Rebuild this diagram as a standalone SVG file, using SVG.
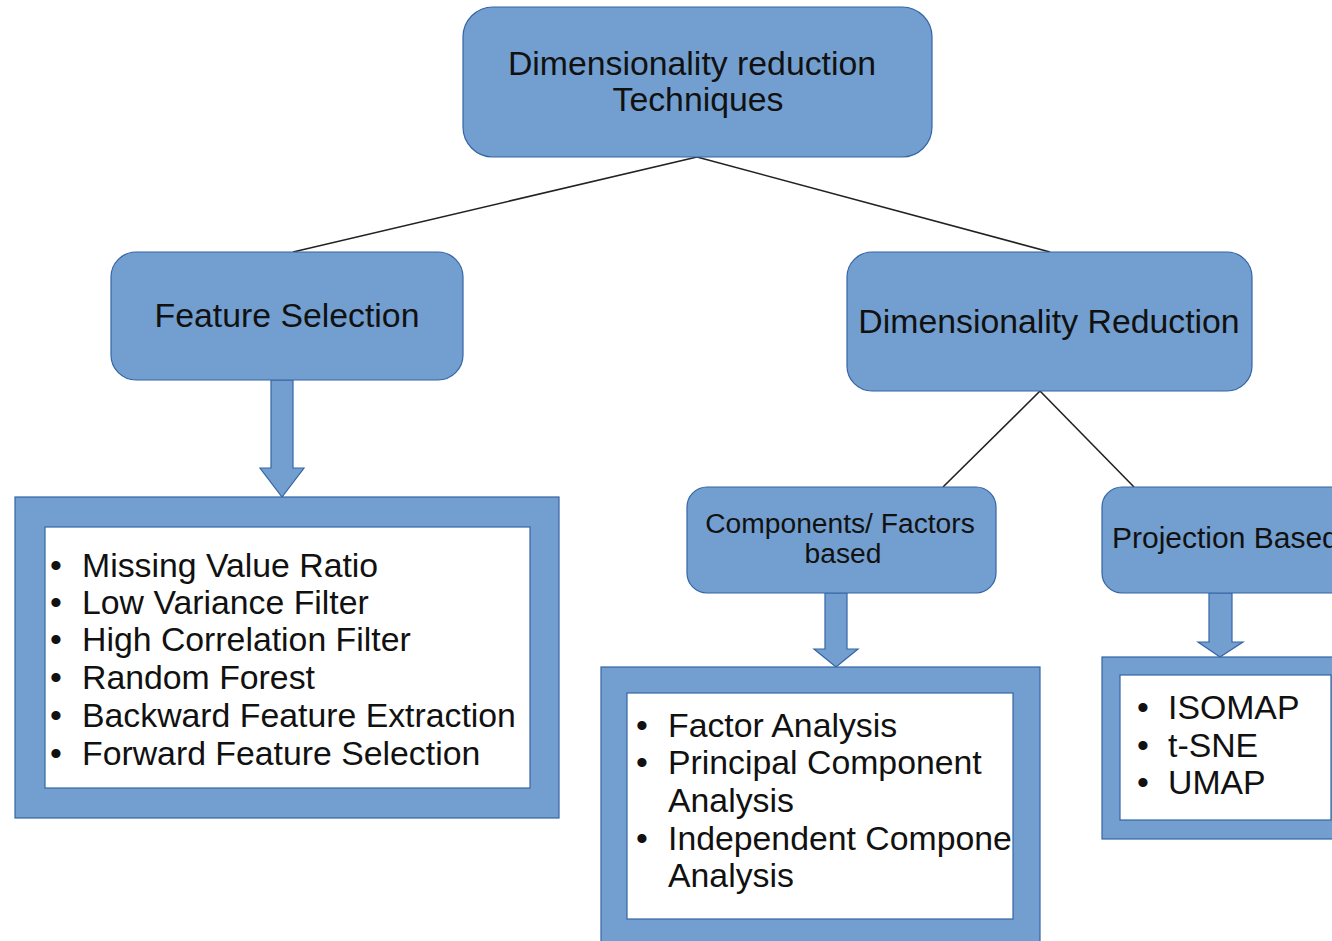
<svg xmlns="http://www.w3.org/2000/svg" width="1332" height="941" viewBox="0 0 1332 941">
<style>
  .box { fill: #729fcf; stroke: #3465a4; stroke-width: 1.2; }
  .inner { fill: #ffffff; stroke: #3465a4; stroke-width: 1.2; }
  .t { font-family: "Liberation Sans", Arial, sans-serif; fill: #111111; }
  .c { text-anchor: middle; }
  .line { stroke: #222222; stroke-width: 1.6; fill: none; }
  .barrow { fill: #729fcf; stroke: #3465a4; stroke-width: 1.2; }
</style>
<defs>
  <clipPath id="clipComp"><rect x="627" y="693" width="386" height="226"/></clipPath>
</defs>
<rect width="1332" height="941" fill="#ffffff"/>

<g id="connectors">
  <line class="line" x1="697" y1="157" x2="293" y2="252"/>
  <line class="line" x1="697" y1="157" x2="1050" y2="252"/>
  <line class="line" x1="1040" y1="391" x2="943" y2="487"/>
  <line class="line" x1="1040" y1="391" x2="1134" y2="487"/>
  <polygon class="barrow" points="271,380 293,380 293,468 304,468 282,497 260,468 271,468"/>
  <polygon class="barrow" points="825,593 847,593 847,649 858,649 836,667 814,649 825,649"/>
  <polygon class="barrow" points="1209,593 1232,593 1232,642 1243,642 1220,657 1198,642 1209,642"/>
</g>

<g id="root">
  <rect class="box" x="463" y="7" width="469" height="150" rx="30"/>
  <text class="t c" x="692" y="75" font-size="33.8">Dimensionality reduction</text>
  <text class="t c" x="698" y="111" font-size="33.8">Techniques</text>
</g>

<g id="feature-selection">
  <rect class="box" x="111" y="252" width="352" height="128" rx="25"/>
  <text class="t c" x="287" y="327" font-size="33.8">Feature Selection</text>
</g>

<g id="dimensionality-reduction">
  <rect class="box" x="847" y="252" width="405" height="139" rx="25"/>
  <text class="t c" x="1049" y="333" font-size="33.8">Dimensionality Reduction</text>
</g>

<g id="components-based">
  <rect class="box" x="687" y="487" width="309" height="106" rx="20"/>
  <text class="t c" x="840" y="533" font-size="28.2">Components/ Factors</text>
  <text class="t c" x="843" y="563" font-size="28.2">based</text>
</g>

<g id="projection-based">
  <rect class="box" x="1102" y="487" width="250" height="106" rx="20"/>
  <text class="t" x="1112" y="548" font-size="30">Projection Based</text>
</g>

<g id="feature-list">
  <rect class="box" x="15" y="497" width="544" height="321"/>
  <rect class="inner" x="45" y="527" width="485" height="261"/>
  <g class="t" font-size="33.8">
    <text x="50" y="577">•</text><text x="82" y="577">Missing Value Ratio</text>
    <text x="50" y="614">•</text><text x="82" y="614">Low Variance Filter</text>
    <text x="50" y="651">•</text><text x="82" y="651">High Correlation Filter</text>
    <text x="50" y="689">•</text><text x="82" y="689">Random Forest</text>
    <text x="50" y="727">•</text><text x="82" y="727">Backward Feature Extraction</text>
    <text x="50" y="765">•</text><text x="82" y="765">Forward Feature Selection</text>
  </g>
</g>

<g id="components-list">
  <rect class="box" x="601" y="667" width="439" height="290"/>
  <rect class="inner" x="627" y="693" width="386" height="226"/>
  <g class="t" font-size="33.8" clip-path="url(#clipComp)">
    <text x="636" y="737">•</text><text x="668" y="737">Factor Analysis</text>
    <text x="636" y="774">•</text><text x="668" y="774">Principal Component</text>
    <text x="668" y="812">Analysis</text>
    <text x="636" y="850">•</text><text x="668" y="850">Independent Component</text>
    <text x="668" y="887">Analysis</text>
  </g>
</g>

<g id="projection-list">
  <rect class="box" x="1102" y="657" width="250" height="182"/>
  <rect class="inner" x="1120" y="675" width="211" height="145"/>
  <g class="t" font-size="33.8">
    <text x="1137" y="719">•</text><text x="1168" y="719">ISOMAP</text>
    <text x="1137" y="757">•</text><text x="1168" y="757">t-SNE</text>
    <text x="1137" y="794">•</text><text x="1168" y="794">UMAP</text>
  </g>
</g>
</svg>
